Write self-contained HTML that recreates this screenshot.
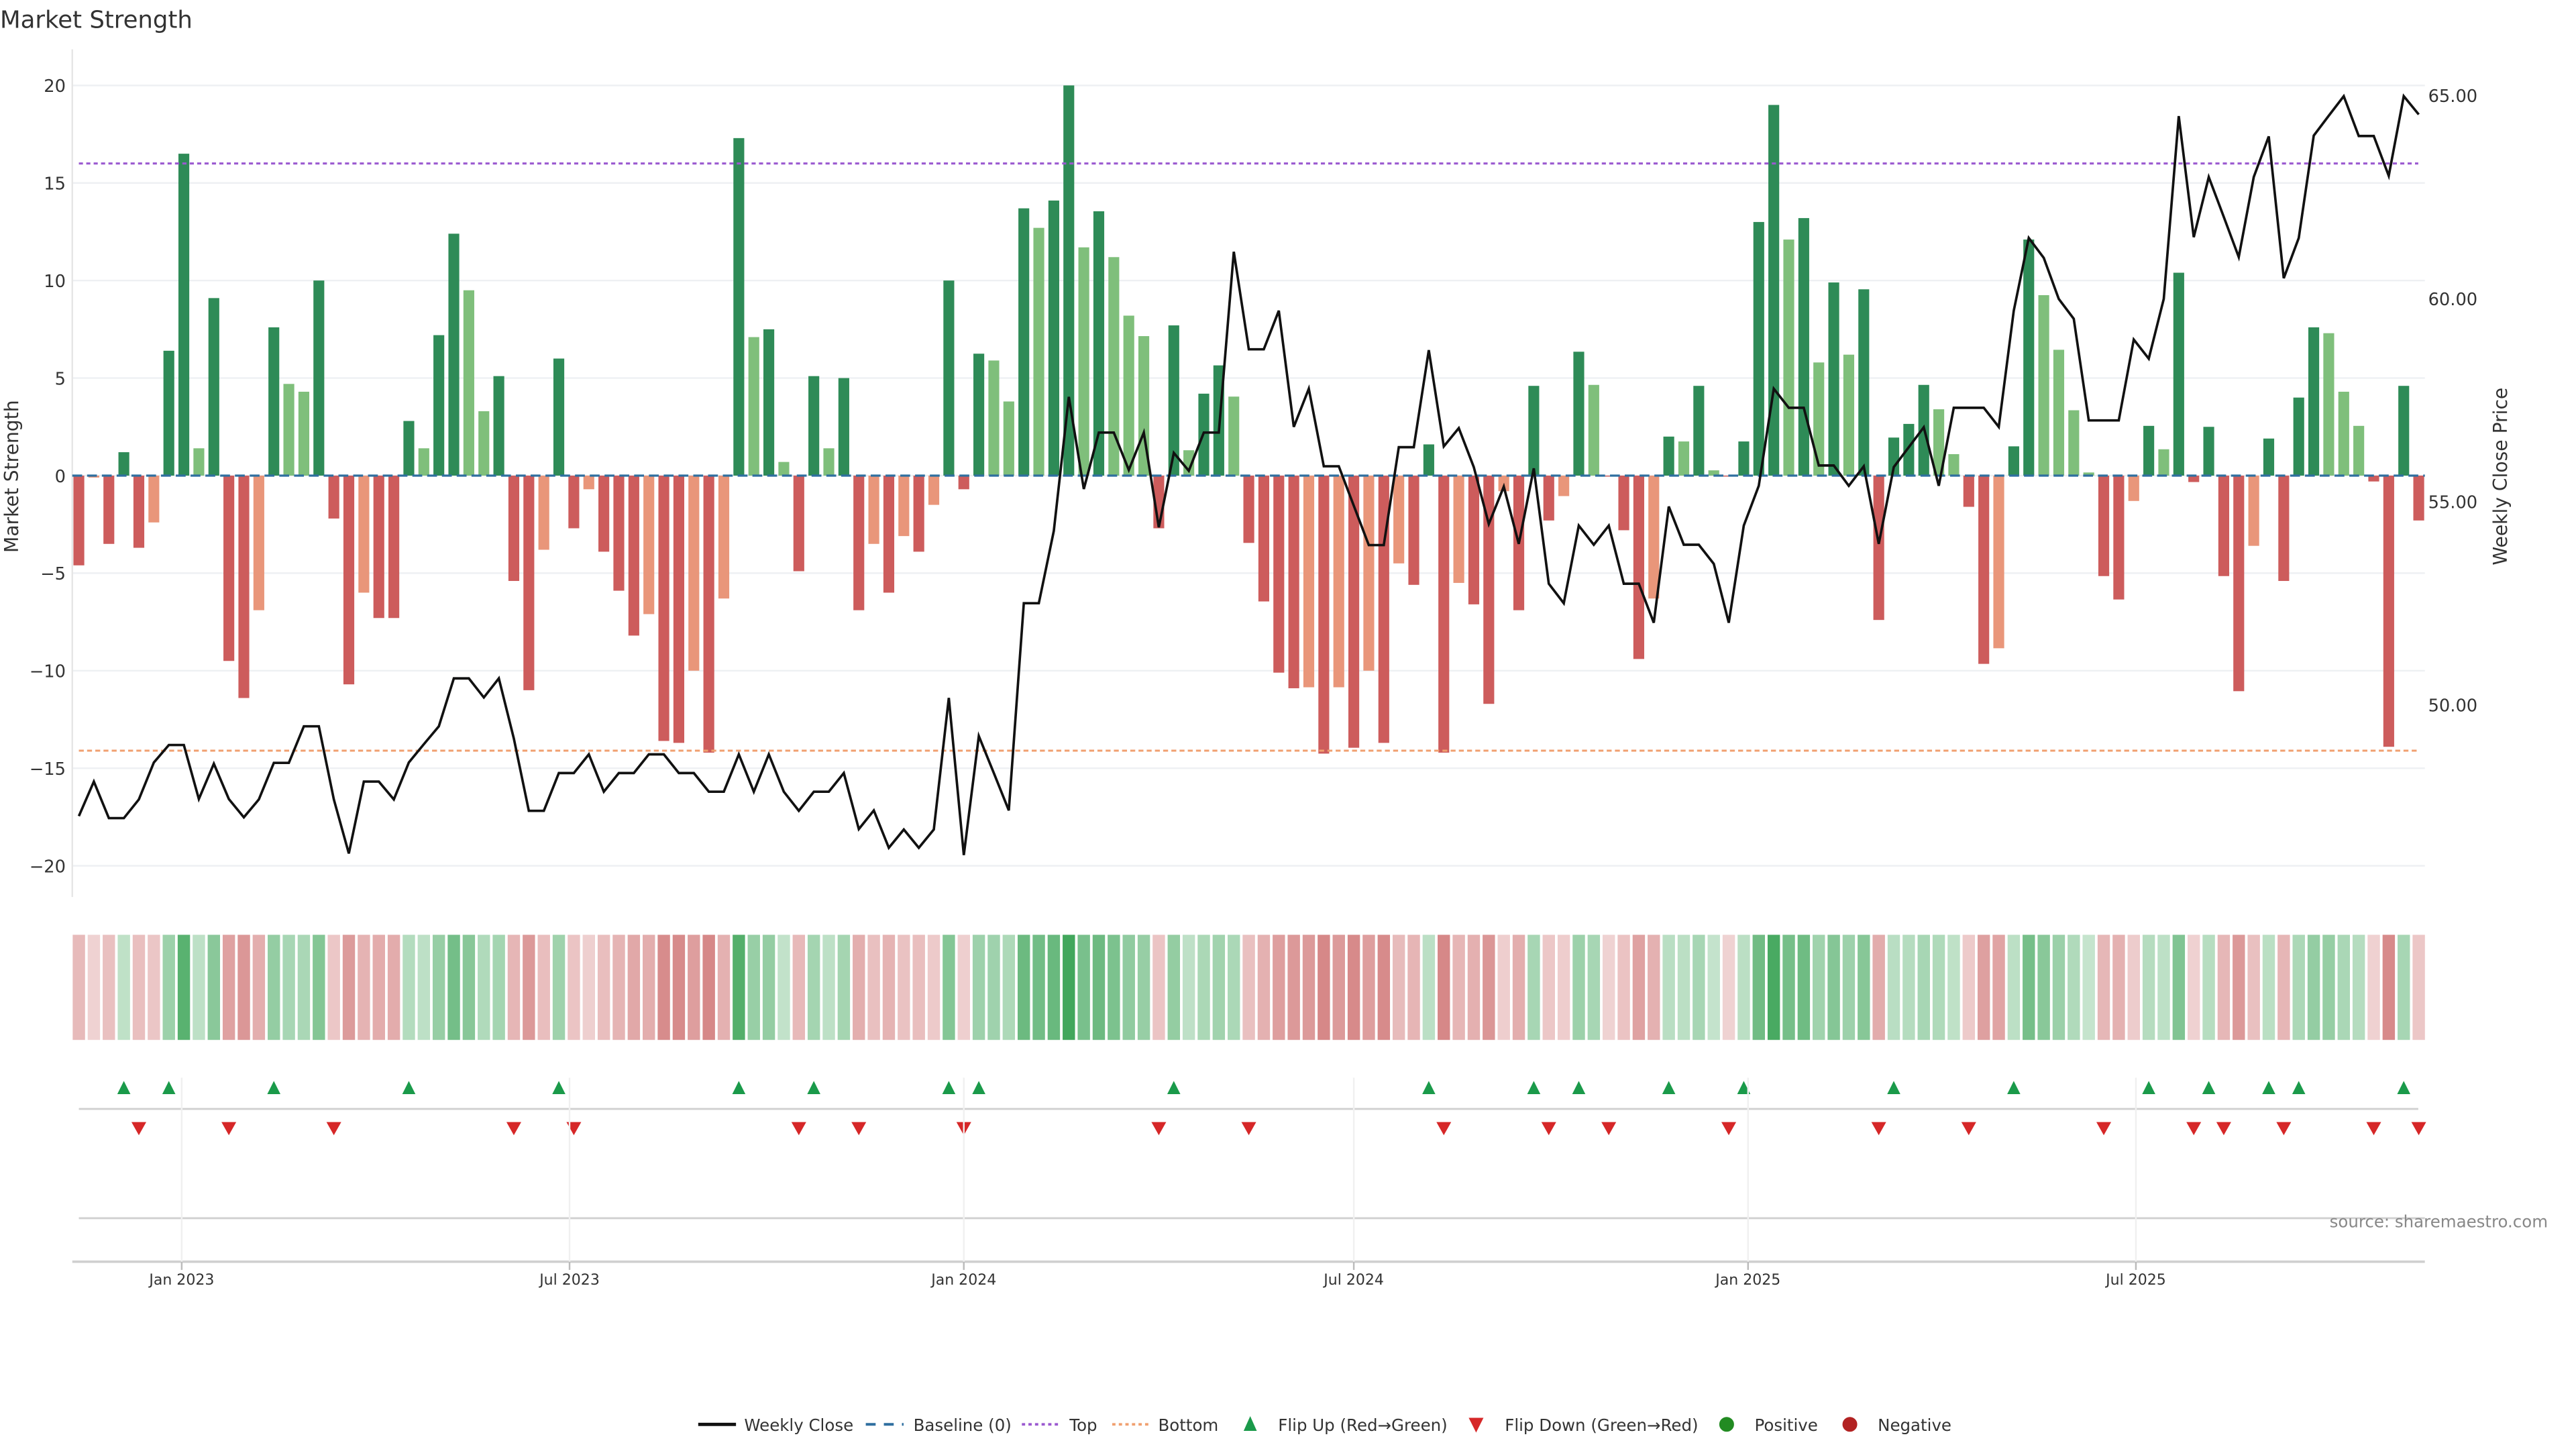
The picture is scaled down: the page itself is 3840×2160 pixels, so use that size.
<!DOCTYPE html>
<html><head><meta charset="utf-8"><style>
html,body{margin:0;padding:0;background:#fff;}
svg{display:block;font-family:"DejaVu Sans","Liberation Sans",sans-serif;}
</style></head><body>
<svg id="chart" xmlns="http://www.w3.org/2000/svg" width="3840" height="2160" viewBox="0 0 1568 882">
<rect width="1568" height="882" fill="#fff"/>
<text x="0" y="17" font-size="14.5" fill="#333">Market Strength</text>
<g id="grid"></g>
<line x1="44" y1="30" x2="44" y2="546" stroke="#e6e6e6" stroke-width="1"/>
<g id="bars"></g>
<g id="refs"></g>
<g id="price"></g>
<g id="yticks"></g>
<text transform="translate(11,290) rotate(-90)" text-anchor="middle" font-size="11.5" fill="#333">Market Strength</text>
<text transform="translate(1526,290) rotate(-90)" text-anchor="middle" font-size="11.5" fill="#333">Weekly Close Price</text>
<g id="heat"></g>
<g id="flips"></g>
<line x1="48" y1="675" x2="1472" y2="675" stroke="#d0d0d0" stroke-width="1.2"/>
<line x1="48" y1="741.5" x2="1476" y2="741.5" stroke="#d0d0d0" stroke-width="1.2"/>
<line x1="44" y1="768" x2="1476" y2="768" stroke="#d0d0d0" stroke-width="1.5"/>
<g id="xticks"></g>
<text x="1418" y="747" font-size="10" fill="#888">source: sharemaestro.com</text>
<g id="legend" font-size="10" fill="#333">
 <g><line x1="425" y1="867" x2="448" y2="867" stroke="#111" stroke-width="2"/><text x="453" y="871">Weekly Close</text></g>
 <g><line x1="527" y1="867" x2="550" y2="867" stroke="#2f6fa0" stroke-width="1.6" stroke-dasharray="6,5"/><text x="556" y="871">Baseline (0)</text></g>
 <g><line x1="622" y1="867" x2="645" y2="867" stroke="#9b59d0" stroke-width="1.5" stroke-dasharray="2,2"/><text x="651" y="871">Top</text></g>
 <g><line x1="677" y1="867" x2="700" y2="867" stroke="#f0a070" stroke-width="1.5" stroke-dasharray="2,2"/><text x="705" y="871">Bottom</text></g>
 <g><polygon points="761,862 757,871 765,871" fill="#1a9a4a"/><text x="778" y="871">Flip Up (Red→Green)</text></g>
 <g><polygon points="894,863 903,863 898.5,872" fill="#d62728"/><text x="916" y="871">Flip Down (Green→Red)</text></g>
 <g><circle cx="1051" cy="867" r="4.5" fill="#228b22"/><text x="1068" y="871">Positive</text></g>
 <g><circle cx="1126" cy="867" r="4.5" fill="#b22222"/><text x="1143" y="871">Negative</text></g>
</g>
</svg>
<script>
const strength = [-4.6,-0.1,-3.5,1.2,-3.7,-2.4,6.4,16.5,1.4,9.1,-9.5,-11.4,-6.9,7.6,4.7,4.3,10.0,-2.2,-10.7,-6.0,-7.3,-7.3,2.8,1.4,7.2,12.4,9.5,3.3,5.1,-5.4,-11.0,-3.8,6.0,-2.7,-0.7,-3.9,-5.9,-8.2,-7.1,-13.6,-13.7,-10.0,-14.2,-6.3,17.3,7.1,7.5,0.7,-4.9,5.1,1.4,5.0,-6.9,-3.5,-6.0,-3.1,-3.9,-1.5,10.0,-0.7,6.25,5.9,3.8,13.7,12.7,14.1,20.0,11.7,13.55,11.2,8.2,7.15,-2.7,7.7,1.3,4.2,5.65,4.05,-3.45,-6.45,-10.1,-10.9,-10.85,-14.25,-10.85,-13.95,-10.0,-13.7,-4.5,-5.6,1.6,-14.2,-5.5,-6.6,-11.7,-0.8,-6.9,4.6,-2.3,-1.05,6.35,4.65,-0.05,-2.8,-9.4,-6.3,2.0,1.75,4.6,0.27,-0.05,1.75,13.0,19.0,12.1,13.2,5.8,9.9,6.2,9.55,-7.4,1.95,2.65,4.65,3.4,1.1,-1.6,-9.65,-8.85,1.5,12.1,9.25,6.45,3.35,0.16,-5.15,-6.35,-1.3,2.55,1.35,10.4,-0.33,2.5,-5.15,-11.05,-3.6,1.9,-5.4,4.0,7.6,7.3,4.3,2.55,-0.3,-13.9,4.6,-2.3];
const closes = [47.26,48.11,47.21,47.21,47.67,48.58,49.01,49.01,47.68,48.55,47.68,47.23,47.67,48.57,48.57,49.47,49.47,47.67,46.34,48.11,48.11,47.67,48.58,49.03,49.47,50.65,50.65,50.18,50.65,49.17,47.39,47.39,48.32,48.32,48.78,47.86,48.32,48.32,48.78,48.78,48.32,48.32,47.86,47.86,48.78,47.86,48.78,47.86,47.39,47.86,47.86,48.32,46.94,47.4,46.48,46.93,46.48,46.93,50.17,46.3,49.23,48.32,47.4,52.5,52.5,54.28,57.58,55.31,56.7,56.7,55.78,56.7,54.37,56.2,55.76,56.7,56.7,61.15,58.75,58.75,59.7,56.84,57.78,55.87,55.87,54.9,53.93,53.93,56.34,56.34,58.73,56.36,56.81,55.85,54.45,55.37,53.96,55.82,52.98,52.5,54.41,53.94,54.41,52.98,52.98,52.02,54.88,53.94,53.94,53.47,52.02,54.41,55.39,57.78,57.31,57.31,55.89,55.89,55.39,55.87,53.96,55.85,56.34,56.83,55.39,57.31,57.31,57.31,56.84,59.7,61.49,61.0,59.99,59.5,57.0,57.0,57.0,58.99,58.52,59.99,64.49,61.51,62.99,62.01,61.02,62.99,63.99,60.5,61.49,64.01,64.5,64.98,64.0,64.0,63.02,64.98,64.53];
const strengthTicks = [20,15,10,5,0,-5,-10,-15,-20];
const priceTicks = [65,60,55,50];
const xTickLabels = ["Jan 2023","Jul 2023","Jan 2024","Jul 2024","Jan 2025","Jul 2025"];
const xTickDates = ["2023-01-01","2023-07-01","2024-01-01","2024-07-01","2025-01-01","2025-07-01"];
const startDate = "2022-11-14";
const topLevel = 16;
const bottomLevel = -14.1;

const NS = "http://www.w3.org/2000/svg";
const STEP = 9.13, X0 = 48;
function xIdx(i){ return X0 + i*STEP; }
function xDate(d){ return X0 + (Date.parse(d)-Date.parse(startDate))/86400000/7*STEP; }
function yS(v){ return 289.5 - v*11.875; }
function yP(p){ return 429 - (p-50)*24.73; }
function mk(tag, attrs, parent){ const e=document.createElementNS(NS,tag); for(const k in attrs) e.setAttribute(k,attrs[k]); parent.appendChild(e); return e; }

const grid=document.getElementById('grid'), yt=document.getElementById('yticks');
strengthTicks.forEach(t=>{
  const l=mk('line',{x1:44,x2:1476,y1:yS(t),y2:yS(t),stroke:'#eef0f3','stroke-width':1},grid);
  
  
  const tx=mk('text',{x:40,y:yS(t)+4,'text-anchor':'end','font-size':10.5,fill:'#333'},yt);
  tx.textContent = t<0 ? '\u2212'+Math.abs(t) : String(t);
  
  
});
priceTicks.forEach(p=>{
  const tx=mk('text',{x:1478,y:yP(p)+4,'font-size':10.5,fill:'#333'},yt);
  tx.textContent = p.toFixed(2);
  
  
});

const bars=document.getElementById('bars'), heat=document.getElementById('heat'), flips=document.getElementById('flips');
strength.forEach((v,i)=>{
  const prev = i>0 ? strength[i-1] : 0;
  let col;
  if(v>=0) col = v>=prev ? '#2e8b57' : '#7fbf7b';
  else col = v<=prev ? '#cd5c5c' : '#e9967a';
  const y0=yS(0), y1=yS(v);
  const r=mk('rect',{x:xIdx(i)-3.3,y:Math.min(y0,y1),width:6.6,height:Math.max(Math.abs(y1-y0),0.3),fill:col},bars);
  
  
  const a = 0.28 + 0.65*Math.min(Math.abs(v)/20,1);
  const hc = v>=0 ? 'rgba(52,160,80,'+a+')' : 'rgba(200,95,95,'+a+')';
  const h=mk('rect',{x:xIdx(i)-4.56+0.8,y:569,width:STEP-1.6,height:64,fill:hc},heat);
  
  
  if(i>0){
    if(prev<0 && v>=0){
      const x=xIdx(i);
      const t=mk('polygon',{points:(x)+',658 '+(x-4)+',666 '+(x+4)+',666',fill:'#1a9a4a'},flips);
      
      
    } else if(prev>=0 && v<0){
      const x=xIdx(i);
      const t=mk('polygon',{points:(x-4.5)+',683 '+(x+4.5)+',683 '+x+',691',fill:'#d62728'},flips);
      
      
    }
  }
});

const refs=document.getElementById('refs');
const bl=mk('line',{x1:44,x2:1476,y1:yS(0),y2:yS(0),stroke:'#2f6fa0','stroke-width':1.3,'stroke-dasharray':'6,3'},refs);


const tl=mk('line',{x1:48,x2:1472,y1:yS(topLevel),y2:yS(topLevel),stroke:'#9b59d0','stroke-width':1.3,'stroke-dasharray':'2.5,2'},refs);


const bo=mk('line',{x1:48,x2:1472,y1:yS(bottomLevel),y2:yS(bottomLevel),stroke:'#f0a070','stroke-width':1.2,'stroke-dasharray':'3,2'},refs);



const pl=mk('polyline',{points:closes.map((p,i)=>xIdx(i).toFixed(2)+','+yP(p).toFixed(2)).join(' '),fill:'none',stroke:'#111','stroke-width':1.5,'stroke-linejoin':'miter'},document.getElementById('price'));



const xt=document.getElementById('xticks');
xTickDates.forEach((d,k)=>{
  const x=xDate(d);
  const g=mk('line',{x1:x,x2:x,y1:656,y2:768,stroke:'#f0f0f0','stroke-width':1},xt);
  
  
  const tk=mk('line',{x1:x,x2:x,y1:768,y2:773,stroke:'#bbb','stroke-width':1},xt);
  
  
  const tx=mk('text',{x:x,y:782,'text-anchor':'middle','font-size':9,fill:'#333'},xt);
  tx.textContent=xTickLabels[k];
  
  
});
</script>
</body></html>
